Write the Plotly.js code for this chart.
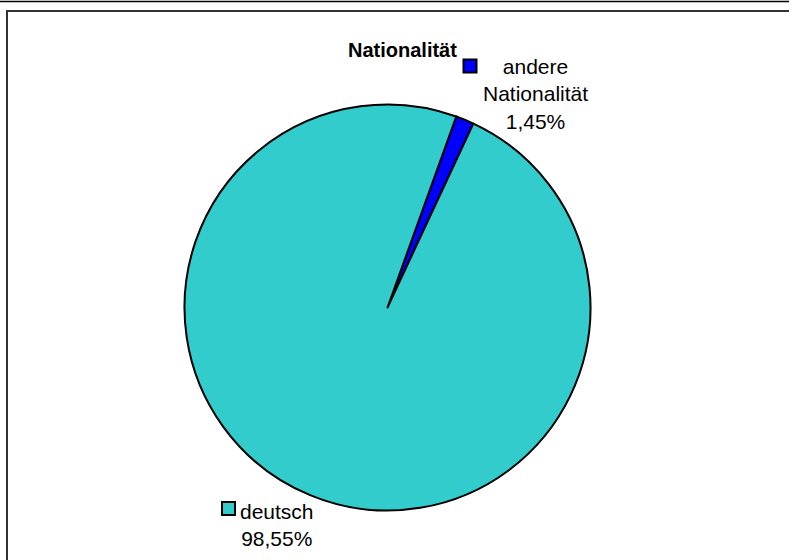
<!DOCTYPE html>
<html>
<head>
<meta charset="utf-8">
<script src="https://cdn.plot.ly/plotly-3.0.1.min.js"></script>
<style>html,body{margin:0;padding:0;background:#fff;}#chart{width:789px;height:560px;}</style>
</head>
<body>
<div id="chart"></div>
<script>
const chartTitle = "Nationalität";
const categories = ["andere Nationalität", "deutsch"];
const percentages = [1.45, 98.55];
const sliceColors = ["#0000FF", "#33CCCC"];

const W = 789, H = 560;
const cx = 387.5, cy = 307.5, R = 203;

function fmt(v){ return v.toFixed(2).replace(".", ",") + "%"; }

const trace = {
  type: "pie",
  values: percentages,
  labels: categories,
  sort: false,
  direction: "clockwise",
  rotation: 19.8,
  textinfo: "none",
  hoverinfo: "label+percent",
  marker: {colors: sliceColors, line: {color: "#000", width: 2}},
  domain: {x: [(cx - R) / W, (cx + R) / W], y: [1 - (cy + R) / H, 1 - (cy - R) / H]},
  showlegend: false
};

const font = {family: "Liberation Sans, Arial, sans-serif", size: 21, color: "#000"};
function px(x){ return x / W; }
function py(y){ return 1 - y / H; }

const annotations = [
  {text: "<b>" + chartTitle + "</b>", x: px(402), y: py(50), xref: "paper", yref: "paper", showarrow: false, xanchor: "center", yanchor: "middle", font: {family: font.family, size: 20, color: "#000"}},
  {text: categories[0].replace(" ", "<br>") + "<br>" + fmt(percentages[0]), x: px(535.5), y: py(94), xref: "paper", yref: "paper", showarrow: false, xanchor: "center", yanchor: "middle", align: "center", font: font},
  {text: categories[1] + "<br>" + fmt(percentages[1]), x: px(277), y: py(525), xref: "paper", yref: "paper", showarrow: false, xanchor: "center", yanchor: "middle", align: "center", font: font}
];

function keyShape(x, y, color){
  const s = 13;
  return {type: "rect", xref: "paper", yref: "paper", x0: px(x - s/2), x1: px(x + s/2), y0: py(y + s/2), y1: py(y - s/2), fillcolor: color, line: {color: "#000", width: 2}};
}

const shapes = [
  {type: "line", xref: "paper", yref: "paper", x0: 0, x1: 1, y0: py(1.5), y1: py(1.5), line: {color: "#000", width: 1.5}},
  {type: "rect", xref: "paper", yref: "paper", x0: px(7), x1: px(800), y0: py(570), y1: py(11), line: {color: "#333", width: 2}},
  keyShape(470, 66, sliceColors[0]),
  keyShape(228.5, 508.5, sliceColors[1])
];

const layout = {
  width: W, height: H,
  margin: {l: 0, r: 0, t: 0, b: 0},
  paper_bgcolor: "#fff",
  annotations: annotations,
  shapes: shapes,
  showlegend: false
};

Plotly.newPlot("chart", [trace], layout, {displayModeBar: false, staticPlot: true});
</script>
</body>
</html>
